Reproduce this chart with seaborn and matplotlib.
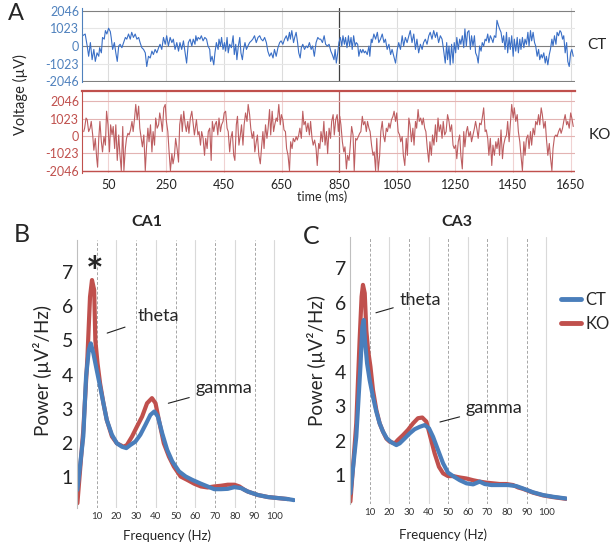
import numpy as np
import pandas as pd
import matplotlib
matplotlib.use("Agg")
import matplotlib.pyplot as plt
from matplotlib.lines import Line2D
import seaborn as sns

sns.set_style("white")
plt.rcParams["font.family"] = ["Lato", "DejaVu Sans"]

BLUE = "#4a7ebb"
RED = "#c0504d"

# ── A: raw LFP traces (ms, µV) ──────────────────────────────────────────────
ct_t = [-39, -30, -23, -18, -12, -6, 0, 5, 11, 17, 20, 26, 30, 36, 40, 45, 51, 57, 60, 65,
        71, 76, 81, 86, 91, 97, 103, 109, 114, 120, 126, 131, 137, 143, 149, 155, 160, 166, 172, 178,
        183, 189, 195, 201, 206, 212, 218, 224, 229, 235, 241, 247, 252, 258, 264, 270, 275, 281, 287, 293,
        298, 304, 310, 316, 321, 327, 333, 339, 344, 350,
        353, 357, 361, 367, 372, 378, 384, 390, 395, 401, 404, 409, 415, 419, 424, 430, 433, 438, 442, 447,
        452, 456, 461, 465, 470, 476, 482, 486, 491, 495, 500, 505, 509, 514, 518, 523, 528, 533, 539, 545,
        550, 556, 562, 568, 574, 579, 585, 591, 597, 602, 608, 614, 620, 625, 631, 637, 643, 648, 654, 660,
        666, 671, 677, 680, 685, 691, 695, 700, 705, 709, 714, 718, 723, 729, 735, 740, 746, 752, 757, 763,
        769, 775, 780,
        785, 791, 797, 802, 808, 814, 820, 825, 831, 835, 839, 844, 848, 853, 858, 862, 867, 871, 876, 881,
        885, 890, 894, 899, 904, 908, 913, 917, 922, 927, 931, 936, 940, 946, 952, 955, 960, 963, 969, 975,
        981, 986, 992, 998, 1004, 1009, 1015, 1021, 1027, 1032, 1038, 1044, 1050, 1055, 1061, 1067, 1072, 1078, 1084, 1090,
        1095, 1101, 1107, 1113, 1118, 1124, 1130, 1136, 1141, 1147, 1153, 1159, 1164, 1170, 1176, 1182, 1187, 1193, 1199, 1205,
        1210, 1216,
        1221, 1224, 1229, 1233, 1238, 1243, 1247, 1252, 1256, 1261, 1266, 1270, 1275, 1280, 1284, 1289, 1293, 1298, 1303, 1307,
        1312, 1317, 1321, 1326, 1330, 1335, 1340, 1344, 1349, 1354, 1358, 1363, 1367, 1372, 1377, 1381, 1386, 1391, 1395, 1400,
        1404, 1409, 1414, 1418, 1423, 1428, 1432, 1437, 1441, 1446, 1451, 1455, 1460, 1465, 1469, 1474, 1478, 1483, 1488, 1492,
        1497, 1502, 1506, 1511, 1515, 1520, 1525, 1529, 1534, 1539, 1543, 1548, 1552, 1557, 1562, 1566, 1571, 1576, 1580, 1585,
        1589, 1594, 1599, 1603, 1608, 1613, 1617, 1622, 1626, 1631, 1636, 1640, 1645, 1650, 1654, 1659]
ct_v = [600, 700, 0, -600, 200, -800, -200, -900, -400, -600, -100, -400, 500, 400, 900, 700, 1040, 840, 500, -200,
        200, -400, -900, 0, 100, -100, 200, 500, 400, 700, 400, 800, 500, 700, 400, 500, 200, -100, -200, -400,
        -1200, -600, -700, -300, -500, -200, -400, -100, 100, -200, 500, 100, 600, 0, 500, 200, 400, -200, 200, -300,
        200, -200, 300, -400, -1000, 200, 400, 0, 400, 100,
        600, 300, 500, 400, 600, 300, 500, 400, 0, -200, -900, -600, -1100, -400, 200, -200, 400, 0, 500, -200,
        200, -300, 500, -400, 100, -100, 600, -500, 100, -800, 0, 500, -400, -800, -200, 200, -200, 0, 200, 300,
        400, 600, 200, 500, 600, 400, 300, 500, 200, -300, -600, -400, -700, -200, -600, -100, 200, 300, 100, 400,
        600, 300, 800, 400, 900, 200, 500, 800, 200, -400, -700, -100, 100, -200, 0, -100, 200, -200, 0, -600,
        200, 500, 400,
        400, 200, 600, 100, 0, 100, -300, -500, -800, -200, -1000, -400, 200, 500, 0, 600, 100, 500, -100, 600,
        0, 500, -200, 600, 0, 200, 100, -600, -200, -400, -200, -400, -300, -500, 0, -600, 400, 200, 700, 400,
        800, 200, 400, 700, 200, 400, -200, 100, -500, -200, -600, -1000, -200, 200, -200, 600, 0, 500, 200, 600,
        900, 200, 700, -200, 400, -400, 100, -200, 200, 400, 100, 600, 800, 400, 900, 500, 800, 200, 600, 400,
        -200, -1000,
        200, -800, 0, -1100, 100, -1000, 200, -400, 500, -200, 400, 100, 600, -100, 1000, 0, 800, 900, -200, 600,
        0, 600, -400, -600, -1000, 0, -300, 200, 0, 400, 300, 700, 200, 600, 400, 200, 600, 500, 1500, 1200,
        1000, 800, 200, 600, -200, 800, -400, 500, -200, 600, -600, 400, -300, 500, -400, 400, -200, 500, -100, 400,
        100, 800, 0, 900, 300, 800, 200, 0, -600, -200, -800, -500, -700, -400, -1000, -600, -1100, -500, -200, 400,
        0, 600, 100, 800, 600, 900, 800, 400, 600, -400, 200, -900, -1200, -400, -200, -600]

ko_t = [-35, -32, -27, -23, -18, -13, -9, -4, 0, 5, 10, 13, 17, 21, 26, 30, 35, 40, 44, 49,
        54, 58, 63, 67, 72, 76, 81, 86, 90, 95, 100, 104, 109, 113, 118, 122, 127, 132, 136, 141,
        145, 150, 155, 159, 164, 168, 173, 178, 182, 187, 191, 196, 201, 205, 210, 214, 219, 224, 228, 233,
        237, 242, 247, 251, 256, 260, 265, 270, 274, 279, 283, 288, 293, 297, 302, 306, 311, 316, 320, 325,
        329, 334, 339, 343, 348,
        355, 360, 364, 369, 373, 378, 383, 387, 392, 396, 401, 406, 410, 415, 419, 424, 429, 433, 438, 442,
        447, 451, 456, 461, 465, 470, 474, 479, 484, 488, 493, 497, 502, 507, 511, 516, 520, 525, 530, 534,
        539, 543, 548, 553, 557, 562, 566, 571, 576, 580, 585, 589, 594, 599, 603, 608, 612, 617, 622, 626,
        631, 635, 640, 645, 649, 654, 658, 663, 667, 672, 677, 681, 686, 690, 695, 700, 704, 709, 713, 718,
        723, 727, 732, 736, 741, 746, 750, 755, 759, 764, 769, 773, 778,
        782, 786, 791, 796, 800, 805, 809, 814, 819, 823, 828, 832, 837, 842, 846, 851, 855, 860, 865, 869,
        874, 878, 883, 887, 892, 897, 901, 906, 910, 915, 920, 924, 929, 933, 938, 943, 947, 952, 956, 961,
        966, 970, 975, 979, 984, 989, 993, 998, 1002, 1007, 1012, 1016, 1021, 1025, 1030, 1035, 1039, 1044, 1048, 1053,
        1058, 1062, 1067, 1071, 1076, 1081, 1085, 1090, 1094, 1099, 1104, 1108, 1113, 1117, 1122, 1126, 1131, 1136, 1140, 1145,
        1149, 1154, 1159, 1163, 1168, 1172, 1177, 1182, 1186, 1191, 1195, 1200, 1205, 1209, 1214,
        1219, 1224, 1229, 1233, 1238, 1243, 1247, 1252, 1256, 1261, 1266, 1270, 1275, 1280, 1284, 1289, 1293, 1298, 1303, 1307,
        1312, 1317, 1321, 1326, 1330, 1335, 1340, 1344, 1349, 1354, 1358, 1363, 1367, 1372, 1377, 1381, 1386, 1391, 1395, 1400,
        1404, 1409, 1414, 1418, 1423, 1428, 1432, 1437, 1441, 1446, 1451, 1455, 1460, 1465, 1469, 1474, 1478, 1483, 1488, 1492,
        1497, 1502, 1506, 1511, 1515, 1520, 1525, 1529, 1534, 1539, 1543, 1548, 1552, 1557, 1562, 1566, 1571, 1576, 1580, 1585,
        1589, 1594, 1599, 1603, 1608, 1613, 1617, 1622, 1626, 1631, 1636, 1640, 1645, 1650, 1654, 1659]
ko_v = [260, 460, 1060, 960, 260, 460, 860, 60, -840, -140, -1340, -1840, -140, 860, -340, -940, -40, -540, 1460, 660,
        -940, 660, 60, 560, -740, 660, -1440, 60, -1040, -2040, 560, -2040, -740, -140, 160, 60, 360, 860, 260, 1060,
        1860, 960, 1760, 460, -140, -640, 60, -2040, -740, 460, -340, 660, -940, 260, -540, 1060, 460, 660, 1360, 860,
        260, 1660, 1860, 860, 260, -840, -2040, -1040, -1640, -1140, -140, -740, -1540, 660, 1260, 260, 1460, 660, 260, 860,
        160, 1060, 1460, 860, 60,
        960, 60, 260, -540, 260, -140, -1140, -140, -740, 260, 460, -1440, 860, 260, 660, 860, 60, 1060, 260, 660,
        860, 1360, 1460, 460, 260, -940, -140, 260, -1140, -1440, 660, 1160, -540, 60, 660, -540, 660, 1360, 860, 1860,
        1260, 460, -140, 260, -940, -340, 60, -1140, -1640, -740, 260, -740, 660, -140, 460, 1560, 60, 1460, 260, 660,
        1060, 860, 1860, 660, 1260, 960, 360, 260, -740, -1140, -2040, -340, -740, -140, -340, -40, -240, 60, 460, -140,
        1460, 660, 860, 260, 760, 60, 860, -140, -540, -240, -740, -1740, -440,
        -740, 260, -340, 860, -540, 260, -1040, 460, -140, 860, 1260, 60, 960, 1260, 260, 1160, 660, -340, -940, -640,
        -1940, -1140, -1440, -640, 560, 60, -2040, -140, -240, -40, 160, 260, 1160, 660, 860, 260, 860, 460, 260, -540,
        -1140, -940, -2040, -140, -2040, -1140, 260, 860, 60, -340, 460, 260, 760, 460, 960, 1160, 1460, 860, 1360, 260,
        60, -340, -40, -1140, -1740, -140, -1140, 1060, 660, -340, 460, -540, 860, 460, 1560, 860, 1060, 660, 1060, 460,
        260, -740, -1540, -340, -1140, 60, -540, 660, -340, 1060, 260, 660, -140, 860, 60,
        260, 1260, 860, 260, 660, -540, -740, -540, -1340, -340, 60, -1140, -1940, 260, -640, 260, 560, -40, 260, -340,
        60, 460, 860, 360, -140, 760, 660, 1060, 1660, 260, 360, -140, -1140, -140, -1740, -540, -1140, -340, -740, -140,
        -1140, 360, -1340, -540, -140, 60, 860, -340, 660, 1860, 1060, 1660, 860, 1260, 260, -340, -1140, -2040, -340, -1140,
        -140, 60, -740, 260, -540, 460, 60, 860, 660, 1260, 660, 1660, 1260, 460, 860, -140, -1140, -440, -1240, -2040,
        -740, -40, 60, -40, 260, 460, 160, 460, 860, 1260, 660, 860, 460, 1360, 1060, 560]

volt_ticks = [-2046, -1023, 0, 1023, 2046]
time_ticks = [50, 250, 450, 650, 850, 1050, 1250, 1450, 1650]

# ── B/C: power spectra (Hz, µV²/Hz) ─────────────────────────────────────────
ca1_ko_f = [0.2, 3.2, 5.3, 6.6, 7.6, 8.7, 9.3, 10.4, 11.7, 13.4, 15.1, 17.7, 20.2, 23.6, 25.3, 27.9, 30.4, 33.0,
            35.5, 38.0, 39.8, 41.5, 44.0, 46.6, 49.1, 52.5, 55.9, 59.4, 62.8, 66.2, 69.6, 73.0, 76.4, 79.8, 82.3,
            84.9, 86.6, 91.7, 96.8, 101.9, 107]
ca1_ko_p = [0.24, 2.38, 4.52, 6.27, 6.76, 6.47, 5.0, 4.33, 3.74, 3.16, 2.67, 2.19, 1.99, 1.89, 1.94, 2.19, 2.48, 2.77,
            3.16, 3.31, 3.16, 2.67, 1.99, 1.6, 1.31, 1.02, 0.92, 0.81, 0.73, 0.70, 0.73, 0.75, 0.78, 0.78, 0.73,
            0.63, 0.58, 0.48, 0.42, 0.39, 0.36]
ca1_ct_f = [0.2, 3.2, 4.6, 6.0, 7.0, 8.3, 10.0, 11.7, 13.4, 15.1, 17.7, 20.2, 22.8, 25.0, 27.0, 29.6, 32.1, 34.7,
            37.2, 39.2, 41.0, 43.2, 45.7, 48.3, 51.7, 55.1, 58.5, 62.8, 66.2, 69.6, 73.0, 76.4, 79.8, 83.2, 86.6,
            91.7, 96.8, 101.9, 107.0, 110.0]
ca1_ct_p = [0.63, 2.2, 3.94, 4.72, 4.91, 4.62, 4.13, 3.65, 3.16, 2.67, 2.24, 1.99, 1.89, 1.85, 1.94, 2.04, 2.24, 2.53,
            2.82, 2.92, 2.77, 2.28, 1.8, 1.46, 1.17, 1.02, 0.92, 0.81, 0.73, 0.65, 0.65, 0.66, 0.71, 0.68, 0.58,
            0.48, 0.42, 0.39, 0.36, 0.33]

ca3_ko_f = [0.2, 3.2, 4.9, 5.9, 6.6, 7.5, 8.3, 9.2, 10.4, 11.7, 13.4, 15.1, 16.8, 18.5, 20.2, 22.8, 24.4, 27.0,
            29.5, 32.1, 34.6, 36.8, 38.9, 40.9, 43.1, 45.3, 47.4, 49.9, 52.5, 55.9, 59.3, 62.7, 66.0, 69.4, 72.8,
            76.2, 79.6, 83.0, 85.6, 88.1, 93.2, 98.3, 103.4, 110.0]
ca3_ko_p = [0.23, 2.5, 4.92, 6.18, 6.52, 6.28, 5.21, 4.63, 4.15, 3.47, 2.89, 2.5, 2.26, 2.06, 1.97, 1.92, 2.02, 2.16,
            2.31, 2.5, 2.65, 2.67, 2.55, 2.11, 1.63, 1.24, 1.05, 0.97, 0.97, 0.93, 0.9, 0.85, 0.81, 0.78, 0.76,
            0.74, 0.74, 0.71, 0.64, 0.6, 0.49, 0.41, 0.36, 0.31]
ca3_ct_f = [0.2, 3.2, 5.3, 6.3, 7.0, 7.6, 8.7, 10.0, 11.7, 13.4, 15.1, 16.8, 18.8, 21.1, 23.6, 25.3, 27.8, 30.4,
            32.9, 35.5, 38.0, 40.2, 42.3, 44.8, 47.4, 49.9, 52.5, 55.9, 59.3, 62.7, 66.0, 68.6, 72.0, 76.2, 80.4,
            84.7, 88.1, 93.2, 98.3, 103.4, 110.0]
ca3_ct_p = [0.47, 2.11, 4.15, 5.31, 5.5, 4.92, 4.24, 3.76, 3.27, 2.84, 2.5, 2.26, 2.06, 1.95, 1.87, 1.92, 2.06, 2.21,
            2.33, 2.4, 2.45, 2.36, 2.11, 1.73, 1.34, 1.07, 0.97, 0.85, 0.76, 0.73, 0.81, 0.74, 0.71, 0.71, 0.71,
            0.68, 0.61, 0.5, 0.42, 0.37, 0.32]

freq_ticks = [10, 20, 30, 40, 50, 60, 70, 80, 90, 100]
power_ticks = [1, 2, 3, 4, 5, 6, 7]

W, H = 611, 545
fig = plt.figure(figsize=(W / 100, H / 100), dpi=100)


def box(l, t, r, b):
    return [l / W, 1 - b / H, (r - l) / W, (b - t) / H]


def ftext(x, y, s, **kw):
    fig.text(x / W, 1 - y / H, s, **kw)


# ── A ────────────────────────────────────────────────────────────────────────
axA1 = fig.add_axes(box(82, 8, 575, 82))
axA2 = fig.add_axes(box(82, 91, 575, 173))

for ax, t, v, col, lcol, grid, hcol, cur in [
        (axA1, ct_t, ct_v, "#3a6fc6", "#4f81bd", "#dcdcdc", "#808080", "#404040"),
        (axA2, ko_t, ko_v, "#bd5e61", RED, "#f0d2d2", "#e3b4b3", "#a86060")]:
    for x in time_ticks:
        ax.axvline(x, color=cur if x == 850 else grid, lw=0.9 if x == 850 else 0.8, zorder=0)
    for y in volt_ticks:
        strong = ax is axA1 and y in (-2046, 0, 2046)
        ax.axhline(y, color=hcol if (strong or ax is axA2) else "#e6e6e6", lw=0.8, zorder=0)
    sns.lineplot(x=t, y=v, ax=ax, color=col, lw=0.8, estimator=None)
    ax.set_xlim(-41, 1665)
    ax.set_yticks(volt_ticks)
    ax.set_yticklabels([str(y) for y in volt_ticks], color=lcol, fontsize=9)
    ax.tick_params(length=0, pad=2)
    ax.set_xticks(time_ticks)
    for s in ax.spines.values():
        s.set_visible(False)
    ax.spines["left"].set_visible(True)
    ax.spines["left"].set_color(lcol)
    ax.set_xlabel("")
    ax.set_ylabel("")

axA1.set_ylim(-2104, 2221)
axA1.set_xticklabels([])
axA2.set_ylim(-2182, 2653)
axA2.axhline(-2046, color=RED, lw=1.0)
axA2.spines["top"].set_visible(True)
axA2.spines["top"].set_color(RED)
axA2.spines["top"].set_linewidth(1.6)
axA2.set_xticklabels([str(x) for x in time_ticks], fontsize=9, color="#222222")
axA2.tick_params(axis="x", pad=4)

ftext(8, 14, "A", fontsize=17, va="center", ha="left")
ftext(20, 95, "Voltage (µV)", fontsize=10.5, rotation=90, va="center", ha="center")
ftext(597, 45, "CT", fontsize=11, va="center", ha="center")
ftext(600, 135, "KO", fontsize=11, va="center", ha="center")
ftext(322, 197, "time (ms)", fontsize=9, va="center", ha="center")

# ── B, C ─────────────────────────────────────────────────────────────────────
axB = fig.add_axes(box(77, 240, 295, 508))
axC = fig.add_axes(box(350, 237, 567, 504))

df_b = pd.DataFrame({
    "freq": ca1_ko_f + ca1_ct_f,
    "power": ca1_ko_p + ca1_ct_p,
    "group": ["KO"] * len(ca1_ko_f) + ["CT"] * len(ca1_ct_f),
})
df_c = pd.DataFrame({
    "freq": ca3_ko_f + ca3_ct_f,
    "power": ca3_ko_p + ca3_ct_p,
    "group": ["KO"] * len(ca3_ko_f) + ["CT"] * len(ca3_ct_f),
})

for ax, df, ylim in [(axB, df_b, (0.1, 7.93)), (axC, df_c, (0.16, 7.91))]:
    for f in freq_ticks:
        if f % 20 == 10:
            ax.axvline(f, color="#a6a6a6", lw=0.7, ls=(0, (3, 2)), zorder=0)
        else:
            ax.axvline(f, color="#d9d9d9", lw=0.8, zorder=0)
    sns.lineplot(data=df, x="freq", y="power", hue="group", hue_order=["KO", "CT"],
                 palette={"CT": BLUE, "KO": RED}, lw=3, legend=False, ax=ax,
                 estimator=None, sort=False)
    ax.set_xlim(0, 110.5)
    ax.set_ylim(*ylim)
    ax.set_xticks(freq_ticks)
    ax.set_xticklabels([str(f) for f in freq_ticks], fontsize=7, color="#333333")
    ax.set_yticks(power_ticks)
    ax.set_yticklabels([str(p) for p in power_ticks], fontsize=14, color="#222222")
    ax.tick_params(length=0, pad=3)
    for s in ax.spines.values():
        s.set_visible(False)
    ax.spines["left"].set_visible(True)
    ax.spines["left"].set_color("#bfbfbf")
    ax.set_xlabel("")
    ax.set_ylabel("")

ann = dict(fontsize=13, ha="center", va="center")
axB.annotate("theta", xy=(15.3, 5.21), xytext=(41.2, 5.71),
             arrowprops=dict(arrowstyle="-", lw=0.8, color="#222222", shrinkA=7, shrinkB=0), **ann)
axB.annotate("gamma", xy=(46.3, 3.16), xytext=(74.3, 3.6),
             arrowprops=dict(arrowstyle="-", lw=0.8, color="#222222", shrinkA=2, shrinkB=0), **ann)
axB.text(9.2, 6.9, "*", fontsize=30, fontweight="bold", ha="center", va="center")
axC.annotate("theta", xy=(13.2, 5.71), xytext=(35.6, 6.08),
             arrowprops=dict(arrowstyle="-", lw=0.8, color="#222222", shrinkA=2, shrinkB=0), **ann)
axC.annotate("gamma", xy=(45.8, 2.54), xytext=(73.3, 2.95),
             arrowprops=dict(arrowstyle="-", lw=0.8, color="#222222", shrinkA=2, shrinkB=0), **ann)

ftext(14, 234, "B", fontsize=18, va="center", ha="left")
ftext(303, 236, "C", fontsize=18, va="center", ha="left")
ftext(147, 222, "CA1", fontsize=11.5, fontweight="bold", va="center", ha="center")
ftext(457, 222, "CA3", fontsize=11.5, fontweight="bold", va="center", ha="center")
ftext(43, 370, "Power (µV²/Hz)", fontsize=13.5, rotation=90, va="center", ha="center")
ftext(317, 360, "Power (µV²/Hz)", fontsize=13.5, rotation=90, va="center", ha="center")
ftext(167, 536, "Frequency (Hz)", fontsize=9.5, va="center", ha="center")
ftext(443, 535, "Frequency (Hz)", fontsize=9.5, va="center", ha="center")

handles = [Line2D([], [], color=BLUE, lw=3.5), Line2D([], [], color=RED, lw=3.5)]
fig.legend(handles, ["CT", "KO"], loc="center left", bbox_to_anchor=(561 / W, 1 - 312 / H),
           frameon=False, fontsize=12, handlelength=1.2, handletextpad=0.25, labelspacing=0.45,
           borderpad=0, borderaxespad=0)

fig.savefig("out.png", dpi=100)
